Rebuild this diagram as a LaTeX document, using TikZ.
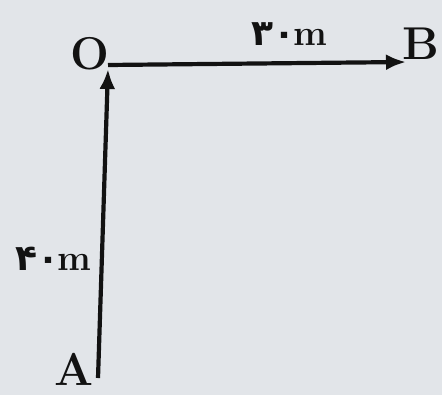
\documentclass[tikz,border=0pt]{standalone}
\usepackage{fontspec}
\newfontfamily\arabicfont[Script=Arabic]{DejaVu Sans}
\usetikzlibrary{arrows.meta, positioning}
\definecolor{papergray}{RGB}{226, 229, 233}
\definecolor{inkblack}{RGB}{18, 18, 18}
\tikzset{
  % Point letters.
  pointlabel/.style={font=\fontsize{23}{26}\selectfont\bfseries, text=inkblack, inner sep=0pt},
  % Distance labels.
  distlabel/.style={font=\fontsize{18}{20}\selectfont\bfseries, text=inkblack, inner sep=0pt},
  % Displacement arrows.
  disp/.style={
    -{Latex[length=10pt, width=8pt]},
    line width=2.1pt,
    draw=inkblack,
  },
}

\begin{document}
\begin{tikzpicture}[x=0.5pt, y=-0.5pt]

  % Paper background.
  \fill[papergray] (0,0) rectangle (442,395);
  \useasboundingbox (0,0) rectangle (442,395);

  % Points.
  \coordinate (ptO) at (108, 65);
  \coordinate (ptB) at (406, 62);
  \coordinate (ptA) at (98, 378);

  \node[pointlabel] (O) at (90, 54) {O};
  \node[pointlabel] (B) at (421, 44) {B};
  \node[pointlabel] (A) at (74, 369) {A};

  % Displacements.
  \draw[disp] (ptA) -- ([yshift=-2pt]ptO);
  \draw[disp] (ptO) -- (ptB);

  % Distances.
  \node[distlabel] (dOB) at (289, 34) {{\arabicfont ۳۰}\kern-1pt m};
  \node[distlabel] (dAO) at (53, 259) {{\arabicfont ۴۰}\kern-1pt m};

\end{tikzpicture}
\end{document}
